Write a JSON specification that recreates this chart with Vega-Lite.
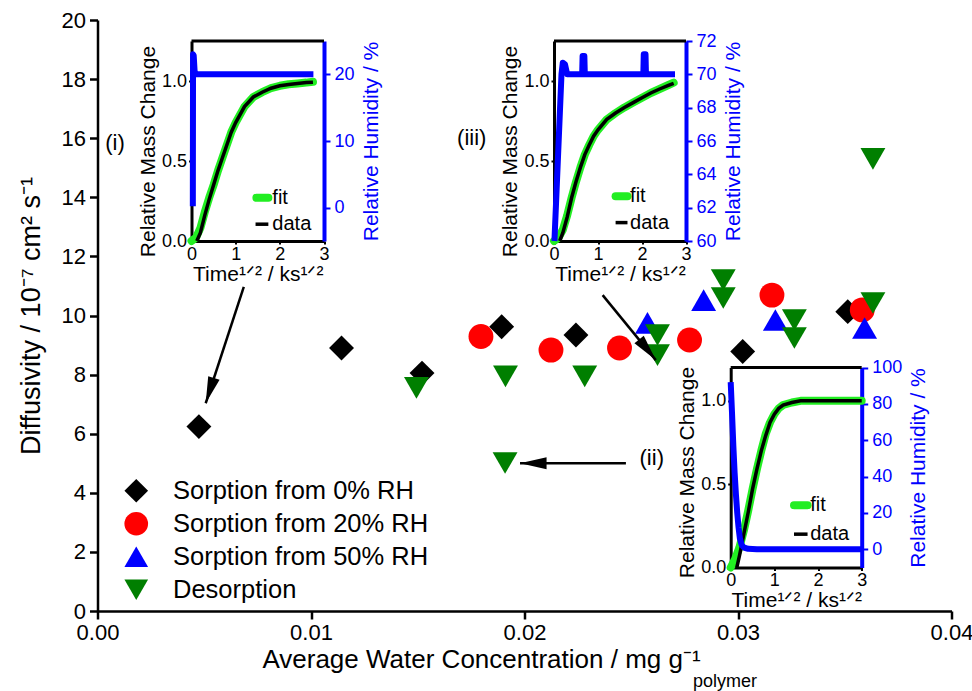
{
  "$schema": "https://vega.github.io/schema/vega-lite/v6.json",
  "width": 854,
  "height": 591,
  "autosize": {"type": "none"},
  "padding": {"left": 97.5, "top": 20, "right": 20.5, "bottom": 80},
  "config": {
    "font": "Liberation Sans",
    "view": {"stroke": null},
    "axis": {"grid": false, "labelFont": "Liberation Sans", "titleFont": "Liberation Sans", "titleFontWeight": "normal", "labelColor": "black", "titleColor": "black", "domainColor": "black", "tickColor": "black", "labelOverlap": false},
    "legend": {"labelFont": "Liberation Sans"}
  },
  "datasets": {
    "main": [
      {"c": 0.00475, "d": 6.24, "s": "Sorption from 0% RH"},
      {"c": 0.01143, "d": 8.90, "s": "Sorption from 0% RH"},
      {"c": 0.0152, "d": 8.05, "s": "Sorption from 0% RH"},
      {"c": 0.01893, "d": 9.62, "s": "Sorption from 0% RH"},
      {"c": 0.02241, "d": 9.34, "s": "Sorption from 0% RH"},
      {"c": 0.03022, "d": 8.78, "s": "Sorption from 0% RH"},
      {"c": 0.03514, "d": 10.13, "s": "Sorption from 0% RH"},
      {"c": 0.01796, "d": 9.29, "s": "Sorption from 20% RH"},
      {"c": 0.02124, "d": 8.83, "s": "Sorption from 20% RH"},
      {"c": 0.02445, "d": 8.90, "s": "Sorption from 20% RH"},
      {"c": 0.02773, "d": 9.17, "s": "Sorption from 20% RH"},
      {"c": 0.03159, "d": 10.69, "s": "Sorption from 20% RH"},
      {"c": 0.03582, "d": 10.19, "s": "Sorption from 20% RH"},
      {"c": 0.02576, "d": 9.75, "s": "Sorption from 50% RH"},
      {"c": 0.02839, "d": 10.52, "s": "Sorption from 50% RH"},
      {"c": 0.03175, "d": 9.85, "s": "Sorption from 50% RH"},
      {"c": 0.03593, "d": 9.58, "s": "Sorption from 50% RH"},
      {"c": 0.01494, "d": 7.55, "s": "Desorption"},
      {"c": 0.01911, "d": 7.94, "s": "Desorption"},
      {"c": 0.02282, "d": 7.94, "s": "Desorption"},
      {"c": 0.01909, "d": 5.01, "s": "Desorption"},
      {"c": 0.02623, "d": 9.34, "s": "Desorption"},
      {"c": 0.02623, "d": 8.66, "s": "Desorption"},
      {"c": 0.02931, "d": 11.2, "s": "Desorption"},
      {"c": 0.02931, "d": 10.59, "s": "Desorption"},
      {"c": 0.03264, "d": 9.85, "s": "Desorption"},
      {"c": 0.03264, "d": 9.24, "s": "Desorption"},
      {"c": 0.03632, "d": 15.3, "s": "Desorption"},
      {"c": 0.03632, "d": 10.42, "s": "Desorption"}
    ],
    "arrows": [
      {"x0": 0.006852, "y0": 10.97, "x1": 0.005068, "y1": 7.03, "dir": 198},
      {"x0": 0.02366, "y0": 10.69, "x1": 0.02615, "y1": 8.49, "dir": 141},
      {"x0": 0.02475, "y0": 5.0, "x1": 0.01979, "y1": 5.0, "dir": 270}
    ],
    "tags": [
      {"x": 0.00082, "y": 15.83, "t": "(i)"},
      {"x": 0.01753, "y": 16.0, "t": "(iii)"},
      {"x": 0.02596, "y": 5.17, "t": "(ii)"}
    ],
    "m1": [
      {"t": 0, "m": 0, "s": "fit"}, {"t": 0.1, "m": 0.02, "s": "fit"}, {"t": 0.2, "m": 0.08, "s": "fit"}, {"t": 0.3, "m": 0.18, "s": "fit"}, {"t": 0.4, "m": 0.27, "s": "fit"}, {"t": 0.5, "m": 0.35, "s": "fit"}, {"t": 0.6, "m": 0.44, "s": "fit"}, {"t": 0.7, "m": 0.52, "s": "fit"}, {"t": 0.8, "m": 0.6, "s": "fit"}, {"t": 0.9, "m": 0.68, "s": "fit"}, {"t": 1.0, "m": 0.74, "s": "fit"}, {"t": 1.2, "m": 0.84, "s": "fit"}, {"t": 1.4, "m": 0.9, "s": "fit"}, {"t": 1.6, "m": 0.93, "s": "fit"}, {"t": 1.8, "m": 0.955, "s": "fit"}, {"t": 2.0, "m": 0.97, "s": "fit"}, {"t": 2.2, "m": 0.98, "s": "fit"}, {"t": 2.4, "m": 0.985, "s": "fit"}, {"t": 2.6, "m": 0.99, "s": "fit"}, {"t": 2.75, "m": 0.995, "s": "fit"},
      {"t": 0.12, "m": 0, "s": "data"}, {"t": 0.2, "m": 0.05, "s": "data"}, {"t": 0.3, "m": 0.16, "s": "data"}, {"t": 0.4, "m": 0.26, "s": "data"}, {"t": 0.5, "m": 0.35, "s": "data"}, {"t": 0.6, "m": 0.44, "s": "data"}, {"t": 0.7, "m": 0.52, "s": "data"}, {"t": 0.8, "m": 0.6, "s": "data"}, {"t": 0.9, "m": 0.68, "s": "data"}, {"t": 1.0, "m": 0.74, "s": "data"}, {"t": 1.2, "m": 0.84, "s": "data"}, {"t": 1.4, "m": 0.9, "s": "data"}, {"t": 1.6, "m": 0.93, "s": "data"}, {"t": 1.8, "m": 0.955, "s": "data"}, {"t": 2.0, "m": 0.97, "s": "data"}, {"t": 2.2, "m": 0.978, "s": "data"}, {"t": 2.4, "m": 0.985, "s": "data"}, {"t": 2.6, "m": 0.99, "s": "data"}, {"t": 2.75, "m": 0.992, "s": "data"}
    ],
    "r1": [
      {"t": 0.03, "rh": 0.2}, {"t": 0.035, "rh": 23}, {"t": 0.05, "rh": 22.8}, {"t": 0.07, "rh": 20.5}, {"t": 0.1, "rh": 20}, {"t": 2.76, "rh": 20}
    ],
    "m3": [
      {"t": 0, "m": 0, "s": "fit"}, {"t": 0.1, "m": 0.02, "s": "fit"}, {"t": 0.2, "m": 0.07, "s": "fit"}, {"t": 0.3, "m": 0.16, "s": "fit"}, {"t": 0.4, "m": 0.27, "s": "fit"}, {"t": 0.5, "m": 0.37, "s": "fit"}, {"t": 0.6, "m": 0.46, "s": "fit"}, {"t": 0.7, "m": 0.54, "s": "fit"}, {"t": 0.8, "m": 0.6, "s": "fit"}, {"t": 0.9, "m": 0.655, "s": "fit"}, {"t": 1.0, "m": 0.695, "s": "fit"}, {"t": 1.2, "m": 0.76, "s": "fit"}, {"t": 1.4, "m": 0.8, "s": "fit"}, {"t": 1.6, "m": 0.835, "s": "fit"}, {"t": 1.8, "m": 0.865, "s": "fit"}, {"t": 2.0, "m": 0.895, "s": "fit"}, {"t": 2.2, "m": 0.925, "s": "fit"}, {"t": 2.4, "m": 0.95, "s": "fit"}, {"t": 2.6, "m": 0.975, "s": "fit"}, {"t": 2.72, "m": 0.99, "s": "fit"},
      {"t": 0.13, "m": 0, "s": "data"}, {"t": 0.2, "m": 0.05, "s": "data"}, {"t": 0.3, "m": 0.15, "s": "data"}, {"t": 0.4, "m": 0.27, "s": "data"}, {"t": 0.5, "m": 0.37, "s": "data"}, {"t": 0.6, "m": 0.46, "s": "data"}, {"t": 0.7, "m": 0.54, "s": "data"}, {"t": 0.8, "m": 0.6, "s": "data"}, {"t": 0.9, "m": 0.655, "s": "data"}, {"t": 1.0, "m": 0.695, "s": "data"}, {"t": 1.2, "m": 0.76, "s": "data"}, {"t": 1.4, "m": 0.8, "s": "data"}, {"t": 1.6, "m": 0.835, "s": "data"}, {"t": 1.8, "m": 0.865, "s": "data"}, {"t": 2.0, "m": 0.895, "s": "data"}, {"t": 2.2, "m": 0.925, "s": "data"}, {"t": 2.4, "m": 0.95, "s": "data"}, {"t": 2.6, "m": 0.972, "s": "data"}, {"t": 2.72, "m": 0.985, "s": "data"}
    ],
    "r3": [
      {"t": 0.01, "rh": 60}, {"t": 0.17, "rh": 70}, {"t": 0.2, "rh": 70.7}, {"t": 0.25, "rh": 70.6}, {"t": 0.3, "rh": 70}, {"t": 0.64, "rh": 70}, {"t": 0.65, "rh": 71.1}, {"t": 0.69, "rh": 71.1}, {"t": 0.7, "rh": 70}, {"t": 2.03, "rh": 70}, {"t": 2.04, "rh": 71.2}, {"t": 2.08, "rh": 71.2}, {"t": 2.09, "rh": 70}, {"t": 2.75, "rh": 70}
    ],
    "m2": [
      {"t": 0, "m": 0, "s": "fit"}, {"t": 0.1, "m": 0.05, "s": "fit"}, {"t": 0.2, "m": 0.12, "s": "fit"}, {"t": 0.3, "m": 0.22, "s": "fit"}, {"t": 0.4, "m": 0.34, "s": "fit"}, {"t": 0.5, "m": 0.47, "s": "fit"}, {"t": 0.6, "m": 0.59, "s": "fit"}, {"t": 0.7, "m": 0.7, "s": "fit"}, {"t": 0.8, "m": 0.8, "s": "fit"}, {"t": 0.9, "m": 0.87, "s": "fit"}, {"t": 1.0, "m": 0.92, "s": "fit"}, {"t": 1.1, "m": 0.955, "s": "fit"}, {"t": 1.2, "m": 0.975, "s": "fit"}, {"t": 1.4, "m": 0.99, "s": "fit"}, {"t": 1.6, "m": 1.0, "s": "fit"}, {"t": 2.0, "m": 1.0, "s": "fit"}, {"t": 2.5, "m": 1.0, "s": "fit"}, {"t": 3.0, "m": 1.0, "s": "fit"},
      {"t": 0.14, "m": 0, "s": "data"}, {"t": 0.2, "m": 0.07, "s": "data"}, {"t": 0.3, "m": 0.2, "s": "data"}, {"t": 0.4, "m": 0.33, "s": "data"}, {"t": 0.5, "m": 0.47, "s": "data"}, {"t": 0.6, "m": 0.59, "s": "data"}, {"t": 0.7, "m": 0.7, "s": "data"}, {"t": 0.8, "m": 0.79, "s": "data"}, {"t": 0.9, "m": 0.87, "s": "data"}, {"t": 1.0, "m": 0.92, "s": "data"}, {"t": 1.1, "m": 0.955, "s": "data"}, {"t": 1.2, "m": 0.975, "s": "data"}, {"t": 1.4, "m": 0.99, "s": "data"}, {"t": 1.6, "m": 1.0, "s": "data"}, {"t": 2.0, "m": 1.0, "s": "data"}, {"t": 2.5, "m": 1.0, "s": "data"}, {"t": 3.0, "m": 1.0, "s": "data"}
    ],
    "r2": [
      {"t": 0.0, "rh": 92}, {"t": 0.03, "rh": 75}, {"t": 0.06, "rh": 57}, {"t": 0.09, "rh": 42}, {"t": 0.12, "rh": 30}, {"t": 0.15, "rh": 20}, {"t": 0.18, "rh": 12}, {"t": 0.21, "rh": 6}, {"t": 0.25, "rh": 2.5}, {"t": 0.3, "rh": 1}, {"t": 0.4, "rh": 0.3}, {"t": 0.6, "rh": 0}, {"t": 3.0, "rh": 0}
    ]
  },
  "layer": [
    {
      "layer": [
        {
          "data": {"name": "main"},
          "mark": {"type": "point", "filled": true, "size": 620, "opacity": 1, "strokeWidth": 0},
          "encoding": {
            "x": {"field": "c", "type": "quantitative", "scale": {"domain": [0, 0.04], "nice": false, "zero": false},
              "axis": {"orient": "bottom", "title": "Average Water Concentration / mg g⁻¹", "titleX": 383.5, "values": [0, 0.01, 0.02, 0.03, 0.04], "format": ".2f", "labelFontSize": 22, "titleFontSize": 26, "tickSize": 8, "tickWidth": 2.5, "domainWidth": 2.5, "labelPadding": 3, "titlePadding": 3, "labelFlush": false}},
            "y": {"field": "d", "type": "quantitative", "scale": {"domain": [0, 20], "nice": false, "zero": false},
              "axis": {"orient": "left", "title": "Diffusivity / 10⁻⁷ cm² s⁻¹", "values": [0, 2, 4, 6, 8, 10, 12, 14, 16, 18, 20], "labelFontSize": 22, "titleFontSize": 27, "tickSize": 8, "tickWidth": 2.5, "domainWidth": 2.5, "labelPadding": 4, "titlePadding": 16}},
            "color": {"field": "s", "type": "nominal",
              "scale": {"domain": ["Sorption from 0% RH", "Sorption from 20% RH", "Sorption from 50% RH", "Desorption"], "range": ["#000000", "#ff0000", "#0000ff", "#007f00"]},
              "legend": {"orient": "none", "legendX": 26, "legendY": 458, "title": null, "labelFontSize": 25.5, "labelColor": "black", "symbolSize": 560, "labelOffset": 24, "rowPadding": 6, "padding": 0, "symbolStrokeWidth": 0, "labelLimit": 400}},
            "shape": {"field": "s", "type": "nominal",
              "scale": {"domain": ["Sorption from 0% RH", "Sorption from 20% RH", "Sorption from 50% RH", "Desorption"], "range": ["diamond", "circle", "triangle-up", "triangle-down"]},
              "legend": {"orient": "none", "legendX": 26, "legendY": 458, "title": null, "labelFontSize": 25.5, "labelColor": "black", "symbolSize": 560, "labelOffset": 24, "rowPadding": 6, "padding": 0, "symbolStrokeWidth": 0, "labelLimit": 400}}
          }
        },
        {
          "data": {"name": "arrows"},
          "mark": {"type": "rule", "strokeWidth": 2.5, "color": "black"},
          "encoding": {"x": {"field": "x0", "type": "quantitative"}, "y": {"field": "y0", "type": "quantitative"}, "x2": {"field": "x1"}, "y2": {"field": "y1"}}
        },
        {
          "data": {"name": "arrows"},
          "mark": {"type": "point", "shape": "M0,0L0.36,1.6L-0.36,1.6Z", "filled": true, "color": "black", "size": 1100, "opacity": 1, "strokeWidth": 0},
          "encoding": {"x": {"field": "x1", "type": "quantitative"}, "y": {"field": "y1", "type": "quantitative"}, "angle": {"field": "dir", "type": "quantitative", "scale": null}}
        },
        {
          "data": {"name": "tags"},
          "mark": {"type": "text", "fontSize": 22, "color": "black", "baseline": "middle", "align": "center"},
          "encoding": {"x": {"field": "x", "type": "quantitative"}, "y": {"field": "y", "type": "quantitative"}, "text": {"field": "t"}}
        },
        {
          "data": {"values": [{}]},
          "mark": {"type": "text", "text": "polymer", "fontSize": 18, "color": "black", "align": "left", "baseline": "middle"},
          "encoding": {"x": {"datum": 0.02789}, "y": {"datum": -2.4}}
        }
      ]
    },
    {
      "layer": [
        {
          "layer": [
            {
              "data": {"name": "m1"}, "transform": [{"filter": "datum.s == 'fit'"}],
              "mark": {"type": "line", "color": "#22ee22", "strokeWidth": 8, "strokeCap": "round", "strokeJoin": "round"},
              "encoding": {
                "x": {"field": "t", "type": "quantitative", "scale": {"domain": [0, 3], "range": [94, 226.5], "nice": false, "zero": false},
                  "axis": {"orient": "bottom", "offset": -370, "values": [0, 1, 2, 3], "format": "d", "title": "Time¹ᐟ² / ks¹ᐟ²", "labelFontSize": 18, "titleFontSize": 21, "tickSize": 3, "tickWidth": 2, "domainWidth": 3, "labelPadding": 1, "titlePadding": 0, "labelFlush": false}},
                "y": {"field": "m", "type": "quantitative", "scale": {"domain": [0, 1.25], "range": [221, 21], "nice": false, "zero": false},
                  "axis": {"orient": "left", "offset": -94, "values": [0, 0.5, 1], "format": ".1f", "title": "Relative Mass Change", "titleY": 131, "labelFontSize": 18, "titleFontSize": 21, "tickSize": 3, "tickWidth": 2, "domainWidth": 3, "labelPadding": 2, "titlePadding": 3}}
              }
            },
            {
              "data": {"name": "m1"}, "transform": [{"filter": "datum.s == 'data'"}],
              "mark": {"type": "line", "color": "black", "strokeWidth": 3.5},
              "encoding": {"x": {"field": "t", "type": "quantitative"}, "y": {"field": "m", "type": "quantitative"}}
            },
            {"data": {"values": [{}]}, "mark": {"type": "rule", "color": "black", "strokeWidth": 3}, "encoding": {"x": {"datum": 0}, "x2": {"datum": 3}, "y": {"datum": 1.25}}},
            {"data": {"values": [{}]}, "mark": {"type": "rule", "color": "#22ee22", "strokeWidth": 8, "strokeCap": "round"}, "encoding": {"x": {"datum": 1.47}, "x2": {"datum": 1.74}, "y": {"datum": 0.27}}},
            {"data": {"values": [{}]}, "mark": {"type": "rule", "color": "black", "strokeWidth": 3.5}, "encoding": {"x": {"datum": 1.45}, "x2": {"datum": 1.74}, "y": {"datum": 0.105}}},
            {"data": {"values": [{}]}, "mark": {"type": "text", "text": "fit", "fontSize": 20, "align": "left", "baseline": "middle", "color": "black"}, "encoding": {"x": {"datum": 1.83}, "y": {"datum": 0.27}}},
            {"data": {"values": [{}]}, "mark": {"type": "text", "text": "data", "fontSize": 20, "align": "left", "baseline": "middle", "color": "black"}, "encoding": {"x": {"datum": 1.83}, "y": {"datum": 0.105}}}
          ]
        },
        {
          "data": {"name": "r1"},
          "mark": {"type": "line", "color": "#0000ff", "strokeWidth": 6, "strokeJoin": "round"},
          "encoding": {
            "x": {"field": "t", "type": "quantitative"},
            "y": {"field": "rh", "type": "quantitative", "scale": {"domain": [-5, 25], "range": [221, 21], "nice": false, "zero": false},
              "axis": {"orient": "right", "offset": -627.5, "values": [0, 10, 20], "title": "Relative Humidity / %", "titleAngle": 270, "titleBaseline": "top", "labelFontSize": 18, "titleFontSize": 21, "tickSize": 6, "tickWidth": 2, "domainWidth": 4, "domainColor": "#0000ff", "tickColor": "#0000ff", "labelColor": "#0000ff", "titleColor": "#0000ff", "labelPadding": 4, "titlePadding": 6}}
          }
        }
      ],
      "resolve": {"scale": {"y": "independent"}}
    },
    {
      "layer": [
        {
          "layer": [
            {
              "data": {"name": "m3"}, "transform": [{"filter": "datum.s == 'fit'"}],
              "mark": {"type": "line", "color": "#22ee22", "strokeWidth": 8, "strokeCap": "round", "strokeJoin": "round"},
              "encoding": {
                "x": {"field": "t", "type": "quantitative", "scale": {"domain": [0, 3], "range": [456.5, 588.5], "nice": false, "zero": false},
                  "axis": {"orient": "bottom", "offset": -370, "values": [0, 1, 2, 3], "format": "d", "title": "Time¹ᐟ² / ks¹ᐟ²", "labelFontSize": 18, "titleFontSize": 21, "tickSize": 3, "tickWidth": 2, "domainWidth": 3, "labelPadding": 1, "titlePadding": 0, "labelFlush": false}},
                "y": {"field": "m", "type": "quantitative", "scale": {"domain": [0, 1.25], "range": [221, 21], "nice": false, "zero": false},
                  "axis": {"orient": "left", "offset": -456.5, "values": [0, 0.5, 1], "format": ".1f", "title": "Relative Mass Change", "titleY": 131, "labelFontSize": 18, "titleFontSize": 21, "tickSize": 3, "tickWidth": 2, "domainWidth": 3, "labelPadding": 2, "titlePadding": 3}}
              }
            },
            {
              "data": {"name": "m3"}, "transform": [{"filter": "datum.s == 'data'"}],
              "mark": {"type": "line", "color": "black", "strokeWidth": 3.5},
              "encoding": {"x": {"field": "t", "type": "quantitative"}, "y": {"field": "m", "type": "quantitative"}}
            },
            {"data": {"values": [{}]}, "mark": {"type": "rule", "color": "black", "strokeWidth": 3}, "encoding": {"x": {"datum": 0}, "x2": {"datum": 3}, "y": {"datum": 1.25}}},
            {"data": {"values": [{}]}, "mark": {"type": "rule", "color": "#22ee22", "strokeWidth": 8, "strokeCap": "round"}, "encoding": {"x": {"datum": 1.4}, "x2": {"datum": 1.67}, "y": {"datum": 0.28}}},
            {"data": {"values": [{}]}, "mark": {"type": "rule", "color": "black", "strokeWidth": 3.5}, "encoding": {"x": {"datum": 1.4}, "x2": {"datum": 1.67}, "y": {"datum": 0.115}}},
            {"data": {"values": [{}]}, "mark": {"type": "text", "text": "fit", "fontSize": 20, "align": "left", "baseline": "middle", "color": "black"}, "encoding": {"x": {"datum": 1.73}, "y": {"datum": 0.28}}},
            {"data": {"values": [{}]}, "mark": {"type": "text", "text": "data", "fontSize": 20, "align": "left", "baseline": "middle", "color": "black"}, "encoding": {"x": {"datum": 1.73}, "y": {"datum": 0.115}}}
          ]
        },
        {
          "data": {"name": "r3"},
          "mark": {"type": "line", "color": "#0000ff", "strokeWidth": 6, "strokeJoin": "round"},
          "encoding": {
            "x": {"field": "t", "type": "quantitative"},
            "y": {"field": "rh", "type": "quantitative", "scale": {"domain": [60, 72], "range": [221, 21], "nice": false, "zero": false},
              "axis": {"orient": "right", "offset": -265.5, "values": [60, 62, 64, 66, 68, 70, 72], "title": "Relative Humidity / %", "titleAngle": 270, "titleBaseline": "top", "labelFontSize": 18, "titleFontSize": 21, "tickSize": 6, "tickWidth": 2, "domainWidth": 4, "domainColor": "#0000ff", "tickColor": "#0000ff", "labelColor": "#0000ff", "titleColor": "#0000ff", "labelPadding": 4, "titlePadding": 6}}
          }
        }
      ],
      "resolve": {"scale": {"y": "independent"}}
    },
    {
      "layer": [
        {
          "layer": [
            {
              "data": {"name": "m2"}, "transform": [{"filter": "datum.s == 'fit'"}],
              "mark": {"type": "line", "color": "#22ee22", "strokeWidth": 8, "strokeCap": "round", "strokeJoin": "round"},
              "encoding": {
                "x": {"field": "t", "type": "quantitative", "scale": {"domain": [0, 3], "range": [633.2, 764.2], "nice": false, "zero": false},
                  "axis": {"orient": "bottom", "offset": -43.5, "values": [0, 1, 2, 3], "format": "d", "title": "Time¹ᐟ² / ks¹ᐟ²", "labelFontSize": 18, "titleFontSize": 21, "tickSize": 3, "tickWidth": 2, "domainWidth": 3, "labelPadding": 1, "titlePadding": 0, "labelFlush": false}},
                "y": {"field": "m", "type": "quantitative", "scale": {"domain": [0, 1.2], "range": [547.5, 347.5], "nice": false, "zero": false},
                  "axis": {"orient": "left", "offset": -633.2, "values": [0, 0.5, 1], "format": ".1f", "title": "Relative Mass Change", "titleY": 452, "labelFontSize": 18, "titleFontSize": 21, "tickSize": 3, "tickWidth": 2, "domainWidth": 3, "labelPadding": 2, "titlePadding": 3}}
              }
            },
            {
              "data": {"name": "m2"}, "transform": [{"filter": "datum.s == 'data'"}],
              "mark": {"type": "line", "color": "black", "strokeWidth": 3.5},
              "encoding": {"x": {"field": "t", "type": "quantitative"}, "y": {"field": "m", "type": "quantitative"}}
            },
            {"data": {"values": [{}]}, "mark": {"type": "rule", "color": "black", "strokeWidth": 3}, "encoding": {"x": {"datum": 0}, "x2": {"datum": 3}, "y": {"datum": 1.2}}},
            {"data": {"values": [{}]}, "mark": {"type": "rule", "color": "#22ee22", "strokeWidth": 8, "strokeCap": "round"}, "encoding": {"x": {"datum": 1.45}, "x2": {"datum": 1.76}, "y": {"datum": 0.374}}},
            {"data": {"values": [{}]}, "mark": {"type": "rule", "color": "black", "strokeWidth": 3.5}, "encoding": {"x": {"datum": 1.45}, "x2": {"datum": 1.76}, "y": {"datum": 0.2}}},
            {"data": {"values": [{}]}, "mark": {"type": "text", "text": "fit", "fontSize": 20, "align": "left", "baseline": "middle", "color": "black"}, "encoding": {"x": {"datum": 1.82}, "y": {"datum": 0.374}}},
            {"data": {"values": [{}]}, "mark": {"type": "text", "text": "data", "fontSize": 20, "align": "left", "baseline": "middle", "color": "black"}, "encoding": {"x": {"datum": 1.82}, "y": {"datum": 0.2}}}
          ]
        },
        {
          "data": {"name": "r2"},
          "mark": {"type": "line", "color": "#0000ff", "strokeWidth": 6, "strokeJoin": "round"},
          "encoding": {
            "x": {"field": "t", "type": "quantitative"},
            "y": {"field": "rh", "type": "quantitative", "scale": {"domain": [-10, 100], "range": [547.5, 347.5], "nice": false, "zero": false},
              "axis": {"orient": "right", "offset": -89.8, "values": [0, 20, 40, 60, 80, 100], "title": "Relative Humidity / %", "titleAngle": 270, "titleBaseline": "top", "labelFontSize": 18, "titleFontSize": 21, "tickSize": 6, "tickWidth": 2, "domainWidth": 4, "domainColor": "#0000ff", "tickColor": "#0000ff", "labelColor": "#0000ff", "titleColor": "#0000ff", "labelPadding": 4, "titlePadding": 6}}
          }
        }
      ],
      "resolve": {"scale": {"y": "independent"}}
    }
  ],
  "resolve": {"scale": {"x": "independent", "y": "independent"}}
}
